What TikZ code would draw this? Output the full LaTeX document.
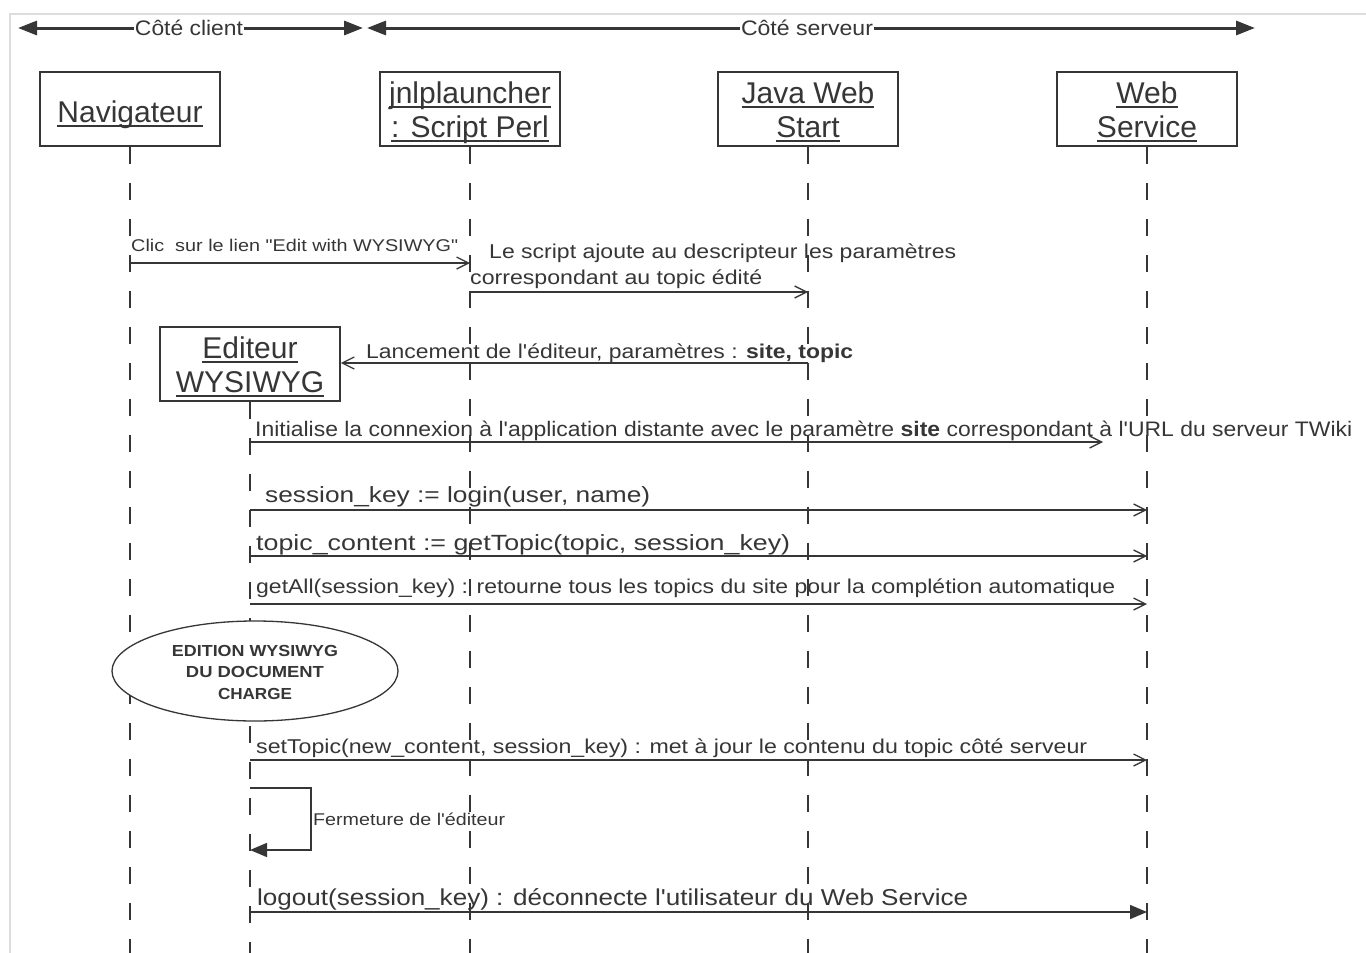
\documentclass[tikz,border=0pt]{standalone}
\usepackage{fontspec}
\setmainfont{Liberation Sans}[Ligatures=TeXOff]
\usepackage{graphicx}
\usetikzlibrary{arrows.meta,shapes.geometric}
\definecolor{ink}{HTML}{363636}
\definecolor{framec}{HTML}{DDDDDD}
\newsavebox\ulbox
\newcommand\ul[1]{\sbox\ulbox{#1}\rlap{\rule[-4.5pt]{\wd\ulbox}{1.6pt}}\usebox\ulbox}
\newcommand\fs[1]{\fontsize{#1pt}{#1pt}\selectfont}
\newcommand\sq[2]{\resizebox{#1pt}{\height}{#2}}
\begin{document}
\begin{tikzpicture}[x=1pt,y=-1pt,
 box/.style={draw=ink,line width=1.6pt,minimum width=180pt,minimum height=74pt,inner sep=0pt,fill=white},
 title/.style={text=ink,font=\fs{30},inner sep=0pt,anchor=base},
 life/.style={draw=ink,line width=1.6pt,dash pattern=on 17pt off 19pt},
 msg/.style={draw=ink,line width=1.5pt,-{Straight Barb[length=12pt,width=12pt,line width=1.3pt]}},
 msgf/.style={draw=ink,line width=1.5pt,-{Triangle[length=17pt,width=14pt]}},
 lbl/.style={text=ink,inner sep=0pt,anchor=base west},
 side/.style={text=ink,font=\fs{21},inner sep=1pt},
 big/.style={draw=ink,line width=3pt,-{Triangle[length=19pt,width=14pt]}},
 etxt/.style={text=ink,font=\fs{16}\bfseries,inner sep=0pt,anchor=base},
]
\useasboundingbox (0,0) rectangle (1366,953);
\fill[white] (0,0) rectangle (1366,953);
\draw[framec,line width=1.5pt] (10,953) -- (10,14) -- (1366,14);

% top ranges
\node[side] (cli) at (189,28) {\sq{108}{Côté client}};
\node[side] (srv) at (807,28) {\sq{132}{Côté serveur}};
\coordinate (lend) at (18,28);
\coordinate (midr) at (363,28);
\coordinate (midl) at (367,28);
\coordinate (rend) at (1255,28);
\draw[big] (cli.west) -- (lend);
\draw[big] (cli.east) -- (midr);
\draw[big] (srv.west) -- (midl);
\draw[big] (srv.east) -- (rend);

% boxes
\node[box] (nav) at (130,109) {};
\node[box] (jnlp) at (470,109) {};
\node[box] (jws) at (808,109) {};
\node[box] (ws) at (1147,109) {};
\node[box] (ed) at (250,364) {};

% lifelines
\coordinate (bot) at (0,953);
\draw[life] (nav.south) -- (nav.south |- bot);
\draw[life] (jnlp.south) -- (jnlp.south |- bot);
\draw[life] (jws.south) -- (jws.south |- bot);
\draw[life] (ws.south) -- (ws.south |- bot);
\draw[life] (ed.south) -- (ed.south |- bot);

% titles
\node[title] (navt) at (130,122) {\ul{Navigateur}};
\node[title] (jnlpa) at (470,103) {\ul{jnlplauncher}};
\node[title] (jnlpb) at (470,137) {\ul{: Script Perl}};
\node[title] (jwsa) at (808,103) {\ul{Java Web}};
\node[title] (jwsb) at (808,137) {\ul{Start}};
\node[title] (wsa) at (1147,103) {\ul{Web}};
\node[title] (wsb) at (1147,137) {\ul{Service}};
\node[title] (eda) at (250,358) {\ul{Editeur}};
\node[title] (edb) at (250,392) {\ul{WYSIWYG}};

% ellipse
\node[ellipse,draw=ink,line width=1.3pt,fill=white,minimum width=286pt,minimum height=100pt,inner sep=0pt] (edit) at (255,671) {};
\node[etxt] (e1) at (255,656) {\sq{166}{EDITION WYSIWYG}};
\node[etxt] (e2) at (255,677) {\sq{138}{DU DOCUMENT}};
\node[etxt] (e3) at (255,699) {\sq{74}{CHARGE}};

% message levels
\coordinate (m1) at (0,263);
\coordinate (m2) at (0,292);
\coordinate (m3) at (0,363);
\coordinate (m4) at (0,442);
\coordinate (m4e) at (1103,442);
\coordinate (m5) at (0,510);
\coordinate (m6) at (0,556);
\coordinate (m7) at (0,604);
\coordinate (m8) at (0,760);
\coordinate (l1) at (0,788);
\coordinate (lp) at (311,850);
\coordinate (m10) at (0,912);

\draw[msg] (nav |- m1) -- (jnlp |- m1);
\draw[msg] (jnlp |- m2) -- (jws |- m2);
\draw[msg] (jws |- m3) -- (ed.east |- m3);
\draw[msg] (ed |- m4) -- (m4e);
\draw[msg] (ed |- m5) -- (ws |- m5);
\draw[msg] (ed |- m6) -- (ws |- m6);
\draw[msg] (ed |- m7) -- (ws |- m7);
\draw[msg] (ed |- m8) -- (ws |- m8);
\draw[msgf] (ed |- l1) -| (lp) -- (ed |- lp);
\draw[msgf] (ed |- m10) -- (ws |- m10);

% labels
\node[lbl,font=\fs{17}] (t1) at (131,251) {\sq{327}{Clic\ \ sur le lien "Edit with WYSIWYG"}};
\node[lbl,font=\fs{20}] (t2a) at (489,258) {\sq{467}{Le script ajoute au descripteur les paramètres}};
\node[lbl,font=\fs{20}] (t2b) at (470,284) {\sq{292}{correspondant au topic édité}};
\node[lbl,font=\fs{20}] (t3) at (366,358) {\sq{487}{Lancement de l'éditeur, paramètres : \textbf{site, topic}}};
\node[lbl,font=\fs{21}] (t4) at (255,436) {\sq{1097}{Initialise la connexion à l'application distante avec le paramètre \textbf{site} correspondant à l'URL du serveur TWiki}};
\node[lbl,font=\fs{22}] (t5) at (265,502) {\sq{385}{session\_key := login(user, name)}};
\node[lbl,font=\fs{22}] (t6) at (256,550) {\sq{534}{topic\_content := getTopic(topic, session\_key)}};
\node[lbl,font=\fs{20}] (t7) at (256,593) {\sq{859}{getAll(session\_key) : retourne tous les topics du site pour la complétion automatique}};
\node[lbl,font=\fs{20}] (t8) at (256,753) {\sq{831}{setTopic(new\_content, session\_key) : met à jour le contenu du topic côté serveur}};
\node[lbl,font=\fs{17}] (t9) at (313,825) {\sq{192}{Fermeture de l'éditeur}};
\node[lbl,font=\fs{23}] (t10) at (257,905) {\sq{711}{logout(session\_key) : déconnecte l'utilisateur du Web Service}};
\end{tikzpicture}
\end{document}
